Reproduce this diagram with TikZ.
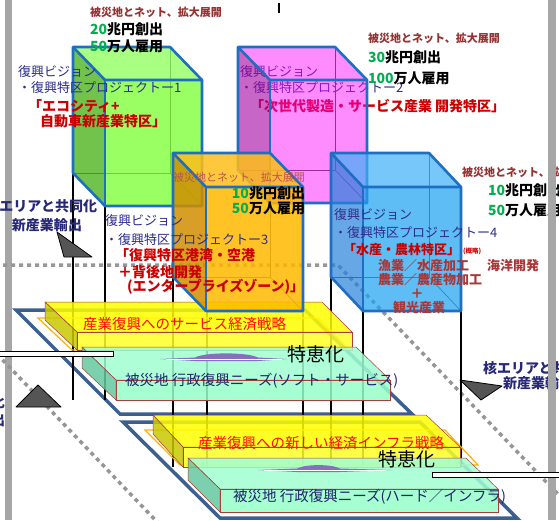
\documentclass[tikz,border=0pt]{standalone}
\usepackage{fontspec}
\newfontfamily\jp{Noto Sans CJK JP}
\newcommand{\jpfs}[1]{\fontsize{#1}{#1}\selectfont}
\definecolor{navy}{RGB}{45,45,140}
\definecolor{navyb}{RGB}{35,35,110}
\definecolor{navys}{RGB}{40,40,120}
\definecolor{redA}{RGB}{204,0,0}
\definecolor{redB}{RGB}{255,10,10}
\definecolor{brn}{RGB}{150,50,50}
\definecolor{brnB}{RGB}{170,55,55}
\definecolor{brnC}{RGB}{185,85,80}
\definecolor{sgreen}{RGB}{0,176,80}
\definecolor{edgeblue}{RGB}{30,110,195}
\definecolor{platblue}{RGB}{60,95,145}
\definecolor{barg}{RGB}{166,166,166}
\definecolor{dotg}{RGB}{150,150,150}
\definecolor{trig}{RGB}{85,85,85}
\definecolor{purp}{RGB}{135,110,190}
\definecolor{slabedge}{RGB}{170,60,60}
\definecolor{orgline}{RGB}{255,176,0}
\definecolor{gfront}{RGB}{121,255,48}
\definecolor{gtop}{RGB}{141,255,88}
\definecolor{gside}{RGB}{68,175,15}
\definecolor{mfront}{RGB}{255,0,255}
\definecolor{mside}{RGB}{163,0,163}
\definecolor{ofront}{RGB}{255,185,0}
\definecolor{otop}{RGB}{255,190,26}
\definecolor{oside}{RGB}{208,143,0}
\definecolor{bfront}{RGB}{26,162,241}
\definecolor{btop}{RGB}{62,176,248}
\definecolor{bside}{RGB}{40,130,220}
\definecolor{ytop}{RGB}{255,255,0}
\definecolor{yfront}{RGB}{255,255,40}
\definecolor{yside}{RGB}{200,200,0}
\definecolor{ttop}{RGB}{160,255,210}
\definecolor{tfront}{RGB}{150,255,200}
\definecolor{tside}{RGB}{100,200,160}
\tikzset{
  txt/.style={inner sep=0pt, outer sep=0pt},
  statA/.style={txt, anchor=west, font=\jp\bfseries\jpfs{11}, text=brn},
  statB/.style={txt, anchor=west, font=\jp\bfseries\jpfs{14}, text=black},
  vis/.style={txt, anchor=west, font=\jp\jpfs{13}, text=navy},
  spz/.style={txt, anchor=west, font=\jp\bfseries\jpfs{14}, text=redA},
  ind/.style={txt, anchor=west, font=\jp\bfseries\jpfs{13}, text=brnB},
  plateR/.style={txt, anchor=west, font=\jp\jpfs{14.5}, text=redB},
  plateB/.style={txt, anchor=west, font=\jp\jpfs{14.5}, text=navyb},
  tok/.style={txt, font=\jp\jpfs{19}, text=black},
  sidelbl/.style={txt, font=\jp\bfseries\jpfs{14}, text=navys},
  hid/.style={draw=black!70, line width=0.7pt},
  edge/.style={draw=edgeblue, line width=2.6pt, line join=round},
  pil/.style={draw=black, line width=1.5pt},
  plat/.style={draw=platblue, line width=3.5pt, fill=white, line join=miter},
  slab/.style={draw=slabedge, line width=0.5pt, fill opacity=0.85},
  dotl/.style={draw=dotg, line width=3.5pt, dash pattern=on 4pt off 4pt},
  trishape/.style={fill=trig, draw=black, line width=0.8pt, line join=round},
  lens/.style={fill=purp, draw=none},
  wbar/.style={fill=white, draw=black, line width=1pt},
}
\newcommand{\boxcube}[9]{%
  \draw[hid] (#1+#3,#2) -- (#1+#3,#2+#4) -- (#1,#2+#4);
  \draw[hid] (#1+#3,#2+#4) -- (#1+#3+#5,#2+#4+#6);
  \fill[#9] (#1,#2) -- (#1+#3,#2) -- (#1+#3+#5,#2+#6) -- (#1+#5,#2+#6) -- cycle;
  \fill[#8] (#1,#2) -- (#1+#5,#2+#6) -- (#1+#5,#2+#4+#6) -- (#1,#2+#4) -- cycle;
  \fill[#7] (#1+#5,#2+#6) rectangle (#1+#3+#5,#2+#4+#6);
  \draw[edge] (#1,#2) -- (#1+#3,#2) -- (#1+#3+#5,#2+#6) -- (#1+#3+#5,#2+#4+#6) -- (#1+#5,#2+#4+#6) -- (#1,#2+#4) -- cycle;
  \draw[edge] (#1,#2) -- (#1+#5,#2+#6) -- (#1+#3+#5,#2+#6);
  \draw[edge] (#1+#5,#2+#6) -- (#1+#5,#2+#4+#6);
}
\begin{document}
\begin{tikzpicture}[x=1pt,y=-1pt]
\useasboundingbox (0,0) rectangle (559,520);
\clip (0,0) rectangle (559,520);
\fill[white] (0,0) rectangle (559,520);
% left gray bar
\fill[barg] (5,0) rectangle (12,520);
% tiny mark
\draw[black, line width=2pt] (278.5,3) -- (278.5,13);
% dotted lines
\coordinate (dA) at (-5,265);
\coordinate (dB) at (338,265);
\coordinate (dC) at (575,512);
\draw[dotl] (dA) -- (dB) -- (dC);
\coordinate (dD) at (-3,354);
\coordinate (dE) at (160,525);
\draw[dotl] (dD) -- (dE);
% platforms
\draw[plat] (16,310) -- (305,310) -- (412,414) -- (120,414) -- cycle;
\draw[plat] (123,422) -- (420,422) -- (517,518) -- (220,518) -- cycle;
% pillars
\draw[pil] (73,173) -- (73,400);
\draw[pil] (105,206) -- (105,400);
\draw[pil] (173,277) -- (173,467);
\draw[pil] (207,311) -- (207,467);
\draw[pil] (303,311) -- (303,467);
\draw[pil] (331,277) -- (331,467);
\draw[pil] (363,311) -- (363,467);
\draw[pil] (461,311) -- (461,467);
% upper slabs
\draw[orgline, line width=1.2pt] (38,318) -- (318,318) -- (350,350) -- (72,350) -- cycle;
\path[slab, fill=ytop] (45,302) -- (322,302) -- (352,332) -- (77,332) -- cycle;
\path[slab, fill=yside] (45,302) -- (77,332) -- (77,350) -- (45,320) -- cycle;
\path[slab, fill=yfront] (77,332) rectangle (352,350);
\path[slab, fill=ttop] (82,347) -- (356,347) -- (390,380) -- (116,380) -- cycle;
\path[slab, fill=tside] (82,347) -- (116,380) -- (116,400) -- (82,368) -- cycle;
\path[slab, fill=tfront] (116,380) rectangle (390,400);
% lower slabs
\draw[orgline, line width=1.2pt] (145,430) -- (445,430) -- (478,465) -- (180,465) -- cycle;
\path[slab, fill=ytop] (153,415) -- (426,415) -- (460,447) -- (183,447) -- cycle;
\path[slab, fill=yside] (153,415) -- (183,447) -- (183,467) -- (153,434) -- cycle;
\path[slab, fill=yfront] (183,447) rectangle (460,467);
\path[slab, fill=ttop] (188,458) -- (466,458) -- (498,489) -- (220,489) -- cycle;
\path[slab, fill=tside] (188,458) -- (220,489) -- (220,512) -- (188,480) -- cycle;
\path[slab, fill=tfront] (220,489) rectangle (498,512);
% lenses
\path[lens] (160,359) -- (195,357.5) .. controls (205,352) and (247,352) .. (258,357.5) -- (287,359) -- (258,361) -- (195,361) -- cycle;
\draw[white, line width=0.8pt] (166,359.6) -- (282,359.6);
\path[lens] (258,470) -- (297,468.5) .. controls (305,464) and (332,464) .. (340,468.5) -- (392,470) -- (340,472) -- (297,472) -- cycle;
\draw[white, line width=0.8pt] (264,470.6) -- (386,470.6);
% platform texts
\node[plateR] (pu1) at (83,324) {産業復興へのサービス経済戦略};
\node[plateB] (pu2) at (125,381) {被災地 行政復興ニーズ(ソフト・サービス)};
\node[plateR] (pl1) at (198,443) {産業復興への新しい経済インフラ戦略};
\node[plateB] (pl2) at (233,497) {被災地 行政復興ニーズ(ハード／インフラ)};
\node[tok] (tk1) at (316,354) {特恵化};
\node[tok] (tk2) at (407,459) {特恵化};
% magenta project text (under its cube)
\node[vis] (m1) at (240,72) {復興ビジョン};
\node[vis] (m2) at (240,88) {・復興特区プロジェクトー2};
\node[spz] (m3) at (250,106) {「次世代製造・サービス産業 開発特区」};
% cubes
\boxcube{73}{47}{97}{126}{32}{33}{fill=gfront, fill opacity=0.75}{fill=gside, fill opacity=0.75}{fill=gtop, fill opacity=0.75}
\boxcube{238}{47}{97}{123}{32}{33}{fill=mfront, fill opacity=0.45}{fill=mside, fill opacity=0.6}{fill=mfront, fill opacity=0.45}
\boxcube{173}{153}{97}{124}{33}{34}{fill=ofront, fill opacity=0.85}{fill=oside, fill opacity=0.85}{fill=otop, fill opacity=0.85}
\boxcube{331}{153}{98}{124}{32}{34}{fill=bfront, fill opacity=0.7}{fill=bside, fill opacity=0.7}{fill=btop, fill opacity=0.7}
% stats
\node[statA] (s1a) at (90,12) {被災地とネット、拡大展開};
\node[statB] (s1b) at (90,29) {\textcolor{sgreen}{20}兆円創出};
\node[statB] (s1c) at (90,46) {\textcolor{sgreen}{50}万人雇用};
\node[statA] (s2a) at (368,38) {被災地とネット、拡大展開};
\node[statB] (s2b) at (368,57) {\textcolor{sgreen}{30}兆円創出};
\node[statB] (s2c) at (368,78) {\textcolor{sgreen}{100}万人雇用};
\node[statA, font=\jp\jpfs{11}, text=brnC] (s3a) at (173,177) {被災地とネット、拡大展開};
\node[statB, anchor=east] (s3b) at (305,193) {\textcolor{sgreen}{10}兆円創出};
\node[statB, anchor=east] (s3c) at (305,208) {\textcolor{sgreen}{50}万人雇用};
\node[statA] (s4a) at (462,172) {被災地とネット、拡大展開};
\node[statB] (s4b) at (488,190) {\textcolor{sgreen}{10}兆円創出};
\node[statB] (s4c) at (488,210) {\textcolor{sgreen}{50}万人雇用};
% project 1
\node[vis] (g1) at (18,72) {復興ビジョン};
\node[vis] (g2) at (18,88) {・復興特区プロジェクトー1};
\node[spz] (g3) at (28,106) {「エコシティ+};
\node[spz] (g4) at (40,121) {自動車新産業特区」};
% project 3
\node[vis] (o1) at (105,221) {復興ビジョン};
\node[vis] (o2) at (105,240) {・復興特区プロジェクトー3};
\node[spz] (o3) at (115,255) {「復興特区港湾・空港};
\node[spz] (o4) at (118,272) {＋背後地開発};
\node[spz] (o5) at (127,287) {(エンタープライズゾーン)」};
% project 4
\node[vis] (b1) at (334,215) {復興ビジョン};
\node[vis] (b2) at (334,233) {・復興特区プロジェクトー4};
\node[spz, font=\jp\bfseries\jpfs{13}] (b3) at (343,250) {「水産・農林特区」};
\node[txt, anchor=west, font=\jp\bfseries\jpfs{6.5}, text=redA] (b3n) at (463,251) {(概略)};
\node[ind] (b4) at (378,266) {漁業／水産加工};
\node[ind] (b5) at (487,266) {海洋開発};
\node[ind] (b6) at (378,280) {農業／農産物加工};
\node[ind, anchor=center] (b7) at (417,294) {＋};
\node[ind] (b8) at (393,308) {観光産業};
% side labels
\node[sidelbl, anchor=east] (l1) at (97,206) {核エリアと共同化};
\node[sidelbl, anchor=east] (l2) at (82,225) {新産業輸出};
\node[sidelbl, anchor=east] (l3) at (5,402) {共同化};
\node[sidelbl, anchor=east] (l4) at (5,420) {輸出};
\node[sidelbl, anchor=west] (r1) at (483,368) {核エリアと共同化};
\node[sidelbl, anchor=west] (r2) at (503,383) {新産業輸出};
% triangles
\draw[trishape] (38,385) -- (61,407) -- (16,407) -- cycle;
\draw[trishape] (57,232) -- (92,257) -- (64,257) -- cycle;
\draw[trishape] (460,380) -- (502,386) -- (481,400) -- cycle;
% right gray bar
\fill[barg] (548,0) rectangle (556,520);
% white bars
\draw[wbar] (-3,351) rectangle (113,356);
\draw[wbar] (432,472) rectangle (565,477);
\end{tikzpicture}
\end{document}
